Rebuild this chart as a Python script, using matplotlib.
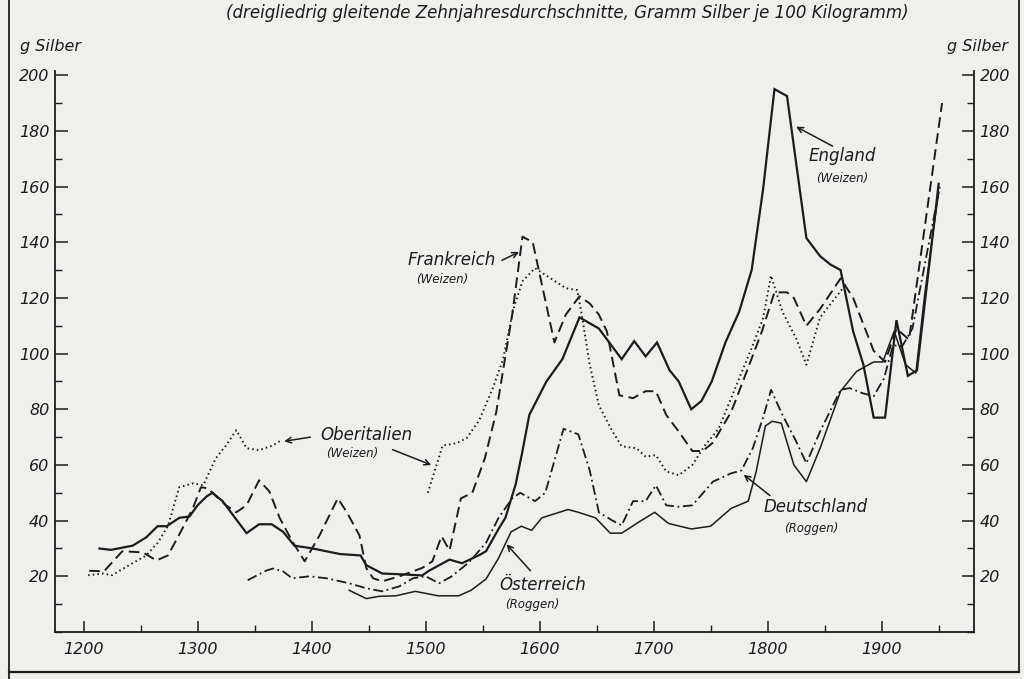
import numpy as np
import matplotlib
matplotlib.use("Agg")
import matplotlib.pyplot as plt
from matplotlib.lines import Line2D
from matplotlib.ticker import MultipleLocator

# England (Weizen) - durchgezogen, kraeftig
eng_jahr = [1214, 1224, 1243, 1255, 1265, 1273, 1284, 1293, 1300, 1308, 1313, 1322, 1332,
            1343, 1354, 1365, 1375, 1385, 1401, 1425, 1443, 1448, 1462, 1480, 1497, 1503,
            1521, 1532, 1547, 1553, 1564, 1570, 1579, 1585, 1591, 1606, 1620, 1635, 1652,
            1672, 1683, 1693, 1703, 1714, 1722, 1733, 1742, 1751, 1763, 1775, 1786, 1796,
            1806, 1817, 1834, 1846, 1855, 1864, 1875, 1884, 1893, 1903, 1913, 1923, 1931, 1950]
eng_wert = [30, 29.5, 31, 34, 38, 38, 41, 41.5, 45.5, 48.7, 50, 47, 41.5,
            35.5, 38.7, 38.7, 36, 31, 30, 28, 27.5, 24, 21, 20.7, 20.3, 22,
            26, 24.7, 27.6, 29, 37, 41, 53, 65, 78, 90, 98, 113, 109,
            98, 104.5, 99, 104, 94, 90, 80, 83, 90, 104, 115, 130, 159,
            195, 192.5, 141.5, 135, 132, 130, 108, 96, 77, 77, 112, 92, 94, 161]

# Frankreich (Weizen) - gestrichelt
fra_jahr = [1205, 1218, 1234, 1252, 1264, 1274, 1284, 1296, 1303, 1309, 1325, 1334, 1343,
            1354, 1363, 1372, 1383, 1394, 1407, 1423, 1431, 1442, 1448, 1454, 1462, 1477,
            1489, 1497, 1506, 1514, 1521, 1531, 1541, 1552, 1562, 1576, 1585, 1594, 1613,
            1623, 1635, 1644, 1652, 1659, 1670, 1682, 1693, 1702, 1711, 1722, 1734, 1743,
            1752, 1768, 1783, 1795, 1806, 1817, 1823, 1834, 1846, 1864, 1875, 1893, 1903,
            1913, 1924, 1953]
fra_wert = [22, 21.8, 29, 28.6, 25.7, 27.5, 35, 44.5, 52, 51.6, 45.5, 43, 45.5,
            54.5, 50.5, 41, 32.6, 25.4, 34.7, 48, 43, 34.7, 23, 19.3, 18.2, 20,
            21.8, 23, 25.4, 34.4, 29.3, 48, 50, 62.4, 79, 114, 142, 140, 104,
            114, 120.6, 118, 114, 108, 85, 84, 86.5, 86.5, 78, 72, 65, 65,
            68, 79, 95, 108, 122, 122, 120, 110, 116, 127, 120, 101, 97,
            109, 105, 190]

# Oberitalien (Weizen) - punktiert, mit Luecke
ita_jahr = [1204, 1217, 1225, 1240, 1255, 1265, 1274, 1284, 1296, 1305, 1316, 1325, 1334,
            1343, 1354, 1366, 1374, 1440, 1502, 1515, 1527, 1536, 1547, 1559, 1568, 1577,
            1585, 1596, 1606, 1623, 1633, 1637, 1644, 1652, 1664, 1672, 1685, 1693, 1702,
            1711, 1722, 1734, 1745, 1757, 1775, 1787, 1796, 1803, 1813, 1825, 1834, 1846, 1866]
ita_wert = [20.4, 21, 20.4, 24, 27.5, 32, 38, 52, 53.4, 52.7, 62.4, 67, 72.5,
            66, 65.3, 67, 69, np.nan, 50, 67, 67.8, 69.6, 76, 87.6, 98, 116,
            126, 130.7, 128, 123.5, 122.8, 114, 96, 81.4, 72, 66.7, 66, 63, 63.5,
            57.7, 56.3, 60, 67, 73, 91, 103, 112.7, 128, 115, 105.5, 96, 113, 123.5]

# Deutschland (Roggen) - strichpunktiert
deu_jahr = [1344, 1360, 1366, 1375, 1383, 1398, 1413, 1433, 1448, 1462, 1477, 1489, 1500,
            1512, 1523, 1538, 1553, 1564, 1576, 1583, 1596, 1605, 1621, 1634, 1644, 1652,
            1664, 1672, 1682, 1693, 1702, 1711, 1722, 1734, 1752, 1768, 1777, 1787, 1796,
            1803, 1813, 1825, 1834, 1846, 1864, 1872, 1883, 1893, 1902, 1910, 1918, 1927, 1951]
deu_wert = [18.6, 22, 22.8, 21.8, 19.3, 20, 19.3, 17.5, 15.7, 14.6, 16.4, 19.3, 20,
            17.5, 20, 25, 32, 41, 48, 50, 47, 50, 73, 71, 58, 43,
            40, 38.3, 47, 47, 52.7, 45.5, 45, 45.5, 54, 57, 58, 66, 77,
            87, 78, 68.5, 60.6, 72, 87, 87.6, 85.8, 84.7, 91, 103, 102.6, 109, 160]

# Oesterreich (Roggen) - duenn durchgezogen
oes_jahr = [1433, 1448, 1459, 1474, 1491, 1511, 1529, 1540, 1553, 1564, 1575, 1584, 1593,
            1602, 1625, 1634, 1649, 1662, 1672, 1689, 1701, 1713, 1733, 1750, 1768, 1783,
            1790, 1798, 1804, 1812, 1823, 1834, 1846, 1864, 1878, 1893, 1901, 1911, 1921,
            1930, 1938, 1950]
oes_wert = [15, 12, 12.8, 13, 14.6, 13, 13, 15, 19, 26.5, 36, 38, 36.5,
            41, 44, 43, 41, 35.5, 35.5, 40, 43, 39, 37, 38, 44.4, 47,
            57.7, 74, 75.7, 75, 60, 54, 66, 86.5, 93.6, 97, 97, 108, 96,
            93, 122, 158]

y_ticks = [20, 40, 60, 80, 100, 120, 140, 160, 180, 200]
x_ticks = [1200, 1300, 1400, 1500, 1600, 1700, 1800, 1900]

papier = '#efefec'
tinte = '#1c1c1c'
plt.rcParams['font.family'] = ['DejaVu Sans']
plt.rcParams['font.style'] = 'italic'

fig = plt.figure(figsize=(10.24, 6.79), dpi=100, facecolor=papier)
ax = fig.add_axes([55/1024, 47/679, (974-55)/1024, (632-71)/679])
ax.set_facecolor(papier)

ax.plot(eng_jahr, eng_wert, color=tinte, lw=1.6, solid_joinstyle='miter')
ax.plot(fra_jahr, fra_wert, color=tinte, lw=1.4, linestyle=(0, (5.5, 2.8)))
ax.plot(ita_jahr, ita_wert, color=tinte, lw=1.4, linestyle=(0, (0.8, 1.6)))
ax.plot(deu_jahr, deu_wert, color=tinte, lw=1.3, linestyle=(0, (5.5, 2, 1, 2)))
ax.plot(oes_jahr, oes_wert, color=tinte, lw=1.1)

ax.set_xlim(1175, 1981)
ax.set_ylim(0, 201.5)
ax.spines['top'].set_visible(False)
for s in ['left', 'right', 'bottom']:
    ax.spines[s].set_color(tinte)
    ax.spines[s].set_linewidth(1.3)

ax.set_xticks(x_ticks)
ax.set_xticklabels([str(t) for t in x_ticks])
ax.xaxis.set_minor_locator(MultipleLocator(50))
ax.set_yticks(y_ticks)
ax.set_yticklabels([str(t) for t in y_ticks])
ax.yaxis.set_minor_locator(MultipleLocator(10))
ax.tick_params(axis='y', which='major', direction='in', length=9, width=1.1, color=tinte,
               left=True, right=True, labelleft=True, labelright=True, labelsize=11.5, pad=4)
ax.tick_params(axis='y', which='minor', direction='in', length=5, width=1.0, color=tinte,
               left=True, right=True)
ax.tick_params(axis='x', which='major', direction='in', length=8, width=1.1, color=tinte,
               labelsize=11.5, pad=7)
ax.tick_params(axis='x', which='minor', direction='in', length=5, width=1.0, color=tinte)
for lab in ax.get_xticklabels() + ax.get_yticklabels():
    lab.set_style('italic')
    lab.set_color(tinte)

# Beschriftungen
pfeil = dict(arrowstyle='->', color=tinte, lw=1.1, shrinkA=0, shrinkB=0)
gross = dict(fontsize=12, style='italic', color=tinte, ha='center', va='center')
klein = dict(fontsize=8.5, style='italic', color=tinte, ha='center', va='center')

ax.text(1523, 133.5, 'Frankreich', **gross)
ax.text(1515, 126.5, '(Weizen)', **klein)
ax.annotate('', xy=(1582, 136.5), xytext=(1567, 133.5), arrowprops=pfeil)

ax.text(1448, 70.7, 'Oberitalien', **gross)
ax.text(1436, 64, '(Weizen)', **klein)
ax.annotate('', xy=(1376, 68.5), xytext=(1399, 70), arrowprops=pfeil)
ax.annotate('', xy=(1505, 60), xytext=(1471, 65.5), arrowprops=pfeil)

ax.text(1865, 171, 'England', **gross)
ax.text(1865, 163, '(Weizen)', **klein)
ax.annotate('', xy=(1825, 181.5), xytext=(1857, 174.5), arrowprops=pfeil)

ax.text(1842, 45, 'Deutschland', **gross)
ax.text(1838, 37, '(Roggen)', **klein)
ax.annotate('', xy=(1779, 56.5), xytext=(1802, 49), arrowprops=pfeil)

ax.text(1603, 17, 'Österreich', **gross)
ax.text(1594, 10, '(Roggen)', **klein)
ax.annotate('', xy=(1571, 31.5), xytext=(1592, 22), arrowprops=pfeil)

fig.text(20/1024, 1-46/679, 'g Silber', fontsize=11.5, style='italic', color=tinte,
         ha='left', va='center')
fig.text(1008/1024, 1-46/679, 'g Silber', fontsize=11.5, style='italic', color=tinte,
         ha='right', va='center')
fig.text(567/1024, 1-13/679,
         '(dreigliedrig gleitende Zehnjahresdurchschnitte, Gramm Silber je 100 Kilogramm)',
         fontsize=12, style='italic', color=tinte, ha='center', va='center')

# Rahmen der Vorlage
fig.add_artist(Line2D([9/1024, 9/1024], [0, 1], transform=fig.transFigure, color=tinte, lw=1.3))
fig.add_artist(Line2D([9/1024, 1019/1024], [1-672/679, 1-672/679], transform=fig.transFigure,
                      color=tinte, lw=1.6))
fig.add_artist(Line2D([1019/1024, 1019/1024], [1-672/679, 1], transform=fig.transFigure,
                      color=tinte, lw=1.3))

fig.savefig('out.png', dpi=100, facecolor=papier)
